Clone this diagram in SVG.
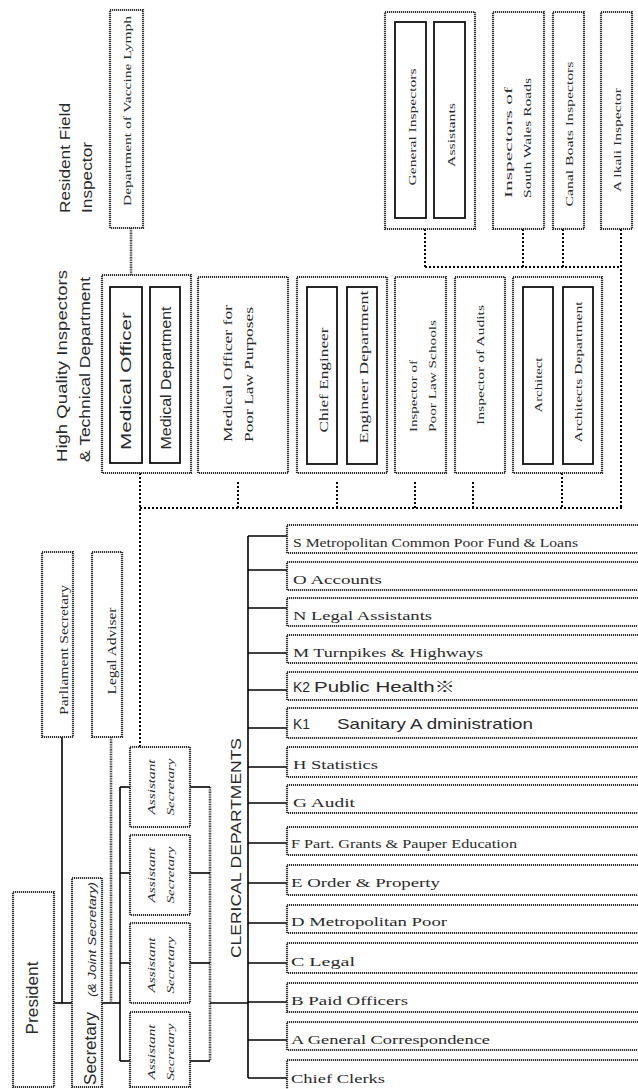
<svg xmlns="http://www.w3.org/2000/svg" width="638" height="1089" viewBox="0 0 638 1089">
<style>
.bx{fill:#fff;stroke:#333;stroke-width:2.2;stroke-dasharray:1.2 0.8}
.ib{fill:#fff;stroke:#111;stroke-width:1.8}
.ln{fill:none;stroke:#000;stroke-width:1.6}
.hl{fill:none;stroke:#444;stroke-width:2.6;stroke-dasharray:1 0.7}
.dt{fill:none;stroke:#000;stroke-width:2;stroke-dasharray:2 2}
.sr{font-family:"Liberation Serif","Times New Roman",serif;fill:#2a2a2a}
.ss{font-family:"Liberation Sans",Arial,"Noto Sans CJK JP",sans-serif;fill:#2a2a2a}
</style>
<rect width="638" height="1089" fill="#fff"/>

<g id="connectors">
  <line class="ln" x1="54" y1="1003" x2="72" y2="1003"/>
  <line class="ln" x1="62" y1="737" x2="62" y2="1003"/>
  <line class="ln" x1="102" y1="1003" x2="120" y2="1003"/>
  <line class="hl" x1="111" y1="737" x2="111" y2="1003"/>
  <line class="ln" x1="120" y1="787" x2="120" y2="1061"/>
  <line class="ln" x1="120" y1="787" x2="130" y2="787"/>
  <line class="ln" x1="120" y1="873" x2="130" y2="873"/>
  <line class="ln" x1="120" y1="963" x2="130" y2="963"/>
  <line class="ln" x1="120" y1="1061" x2="130" y2="1061"/>
  <line class="hl" x1="210" y1="787" x2="210" y2="1061"/>
  <line class="ln" x1="190" y1="787" x2="210" y2="787"/>
  <line class="ln" x1="190" y1="873" x2="210" y2="873"/>
  <line class="ln" x1="190" y1="963" x2="210" y2="963"/>
  <line class="ln" x1="190" y1="1061" x2="210" y2="1061"/>
  <line class="ln" x1="210" y1="1003" x2="248" y2="1003"/>
  <line class="ln" x1="248" y1="536" x2="248" y2="1078"/>
  <line class="ln" x1="248" y1="536" x2="287" y2="536"/>
  <line class="ln" x1="248" y1="570" x2="287" y2="570"/>
  <line class="ln" x1="248" y1="608" x2="287" y2="608"/>
  <line class="ln" x1="248" y1="653" x2="287" y2="653"/>
  <line class="ln" x1="248" y1="690" x2="287" y2="690"/>
  <line class="ln" x1="248" y1="728" x2="287" y2="728"/>
  <line class="ln" x1="248" y1="767" x2="287" y2="767"/>
  <line class="ln" x1="248" y1="803" x2="287" y2="803"/>
  <line class="ln" x1="248" y1="843" x2="287" y2="843"/>
  <line class="ln" x1="248" y1="883" x2="287" y2="883"/>
  <line class="ln" x1="248" y1="923" x2="287" y2="923"/>
  <line class="ln" x1="248" y1="963" x2="287" y2="963"/>
  <line class="ln" x1="248" y1="1002" x2="287" y2="1002"/>
  <line class="ln" x1="248" y1="1040" x2="287" y2="1040"/>
  <line class="ln" x1="248" y1="1078" x2="287" y2="1078"/>
  <line class="hl" x1="131" y1="228" x2="131" y2="275"/>
  <line class="ln" x1="142" y1="380" x2="150" y2="380"/>
  <line class="ln" x1="337" y1="382" x2="347" y2="382"/>
  <line class="ln" x1="553" y1="382" x2="563" y2="382"/>
  <line class="ln" x1="426" y1="130" x2="434" y2="130"/>
  <line class="dt" x1="140" y1="473" x2="140" y2="747"/>
  <line class="dt" x1="140" y1="508" x2="622" y2="508"/>
  <line class="dt" x1="238" y1="482" x2="238" y2="508"/>
  <line class="dt" x1="337" y1="482" x2="337" y2="508"/>
  <line class="dt" x1="415" y1="482" x2="415" y2="508"/>
  <line class="dt" x1="473" y1="482" x2="473" y2="508"/>
  <line class="dt" x1="562" y1="473" x2="562" y2="508"/>
  <line class="dt" x1="621" y1="229" x2="621" y2="508"/>
  <line class="dt" x1="425" y1="267" x2="621" y2="267"/>
  <line class="dt" x1="425" y1="229" x2="425" y2="267"/>
  <line class="dt" x1="523" y1="229" x2="523" y2="267"/>
  <line class="dt" x1="563" y1="229" x2="563" y2="267"/>
</g>

<g id="president">
  <rect class="bx" x="13" y="892" width="41" height="195"/>
  <text class="ss" font-size="16" transform="translate(37.6,998) rotate(-90)" text-anchor="middle" textLength="73" lengthAdjust="spacingAndGlyphs">President</text>
</g>
<g id="secretary">
  <rect class="bx" x="72" y="878" width="30" height="209"/>
  <text class="ss" font-size="16" transform="translate(96,1085) rotate(-90)" textLength="73" lengthAdjust="spacingAndGlyphs">Secretary</text>
  <text class="ss" font-size="10" font-style="italic" transform="translate(96,997) rotate(-90)" textLength="115" lengthAdjust="spacingAndGlyphs">(&amp; Joint Secretary)</text>
</g>
<g id="parliament-secretary">
  <rect class="bx" x="42" y="552" width="31" height="185"/>
  <text class="sr" font-size="12" transform="translate(68,650) rotate(-90)" text-anchor="middle" textLength="130" lengthAdjust="spacingAndGlyphs">Parliament Secretary</text>
</g>
<g id="legal-adviser">
  <rect class="bx" x="92" y="552" width="30" height="185"/>
  <text class="sr" font-size="12" transform="translate(116,651) rotate(-90)" text-anchor="middle" textLength="87" lengthAdjust="spacingAndGlyphs">Legal Adviser</text>
</g>

<g id="assistant-secretary-1">
  <rect class="bx" x="130" y="747" width="60" height="80"/>
  <text class="sr" font-size="10" font-style="italic" transform="translate(154.5,787) rotate(-90)" text-anchor="middle" textLength="55" lengthAdjust="spacingAndGlyphs">Assistant</text>
  <text class="sr" font-size="10" font-style="italic" transform="translate(173.5,787) rotate(-90)" text-anchor="middle" textLength="57" lengthAdjust="spacingAndGlyphs">Secretary</text>
</g>
<g id="assistant-secretary-2">
  <rect class="bx" x="130" y="835" width="60" height="80"/>
  <text class="sr" font-size="10" font-style="italic" transform="translate(154.5,875) rotate(-90)" text-anchor="middle" textLength="55" lengthAdjust="spacingAndGlyphs">Assistant</text>
  <text class="sr" font-size="10" font-style="italic" transform="translate(173.5,875) rotate(-90)" text-anchor="middle" textLength="57" lengthAdjust="spacingAndGlyphs">Secretary</text>
</g>
<g id="assistant-secretary-3">
  <rect class="bx" x="130" y="923" width="60" height="80"/>
  <text class="sr" font-size="10" font-style="italic" transform="translate(154.5,965) rotate(-90)" text-anchor="middle" textLength="55" lengthAdjust="spacingAndGlyphs">Assistant</text>
  <text class="sr" font-size="10" font-style="italic" transform="translate(173.5,965) rotate(-90)" text-anchor="middle" textLength="57" lengthAdjust="spacingAndGlyphs">Secretary</text>
</g>
<g id="assistant-secretary-4">
  <rect class="bx" x="130" y="1012" width="60" height="75"/>
  <text class="sr" font-size="10" font-style="italic" transform="translate(154.5,1052) rotate(-90)" text-anchor="middle" textLength="55" lengthAdjust="spacingAndGlyphs">Assistant</text>
  <text class="sr" font-size="10" font-style="italic" transform="translate(173.5,1052) rotate(-90)" text-anchor="middle" textLength="57" lengthAdjust="spacingAndGlyphs">Secretary</text>
</g>

<g id="clerical-label">
  <text class="ss" font-size="15" transform="translate(241,848) rotate(-90)" text-anchor="middle" textLength="220" lengthAdjust="spacingAndGlyphs">CLERICAL DEPARTMENTS</text>
</g>

<g id="dept-S"><rect class="bx" x="287" y="525" width="360" height="28"/><text class="sr" font-size="13.5" x="293" y="547" textLength="285" lengthAdjust="spacingAndGlyphs">S Metropolitan Common Poor Fund &amp; Loans</text></g>
<g id="dept-O"><rect class="bx" x="287" y="562" width="360" height="28"/><text class="sr" font-size="13.5" x="293" y="584" textLength="89" lengthAdjust="spacingAndGlyphs">O  Accounts</text></g>
<g id="dept-N"><rect class="bx" x="287" y="598" width="360" height="28"/><text class="sr" font-size="13.5" x="293" y="620" textLength="139" lengthAdjust="spacingAndGlyphs">N Legal Assistants</text></g>
<g id="dept-M"><rect class="bx" x="287" y="635" width="360" height="28"/><text class="sr" font-size="13.5" x="293" y="657" textLength="190" lengthAdjust="spacingAndGlyphs">M  Turnpikes &amp; Highways</text></g>
<g id="dept-K2"><rect class="bx" x="287" y="672" width="360" height="28"/><text class="ss" font-size="14.5" x="293" y="692" textLength="17" lengthAdjust="spacingAndGlyphs">K2</text><text class="ss" font-size="14.5" x="314" y="692" textLength="141" lengthAdjust="spacingAndGlyphs">Public Health※</text></g>
<g id="dept-K1"><rect class="bx" x="287" y="708" width="360" height="30"/><text class="ss" font-size="14.5" x="293" y="729" textLength="17" lengthAdjust="spacingAndGlyphs">K1</text><text class="ss" font-size="14.5" x="337" y="729" textLength="196" lengthAdjust="spacingAndGlyphs">Sanitary A dministration</text></g>
<g id="dept-H"><rect class="bx" x="287" y="747" width="360" height="30"/><text class="sr" font-size="13.5" x="293" y="769" textLength="85" lengthAdjust="spacingAndGlyphs">H Statistics</text></g>
<g id="dept-G"><rect class="bx" x="287" y="785" width="360" height="28"/><text class="sr" font-size="13.5" x="293" y="807" textLength="62" lengthAdjust="spacingAndGlyphs">G  Audit</text></g>
<g id="dept-F"><rect class="bx" x="287" y="827" width="360" height="28"/><text class="sr" font-size="13" x="291" y="848" textLength="226" lengthAdjust="spacingAndGlyphs">F  Part. Grants &amp; Pauper Education</text></g>
<g id="dept-E"><rect class="bx" x="287" y="865" width="360" height="30"/><text class="sr" font-size="13.5" x="291" y="887" textLength="149" lengthAdjust="spacingAndGlyphs">E  Order &amp; Property</text></g>
<g id="dept-D"><rect class="bx" x="287" y="905" width="360" height="28"/><text class="sr" font-size="13.5" x="291" y="926" textLength="156" lengthAdjust="spacingAndGlyphs">D  Metropolitan Poor</text></g>
<g id="dept-C"><rect class="bx" x="287" y="943" width="360" height="30"/><text class="sr" font-size="13.5" x="291" y="966" textLength="64" lengthAdjust="spacingAndGlyphs">C  Legal</text></g>
<g id="dept-B"><rect class="bx" x="287" y="983" width="360" height="29"/><text class="sr" font-size="13.5" x="291" y="1005" textLength="117" lengthAdjust="spacingAndGlyphs">B  Paid Officers</text></g>
<g id="dept-A"><rect class="bx" x="287" y="1022" width="360" height="28"/><text class="sr" font-size="13.5" x="291" y="1044" textLength="199" lengthAdjust="spacingAndGlyphs">A  General Correspondence</text></g>
<g id="dept-chief-clerks"><rect class="bx" x="287" y="1060" width="360" height="32"/><text class="sr" font-size="13.5" x="291" y="1083" textLength="94" lengthAdjust="spacingAndGlyphs">Chief Clerks</text></g>

<g id="headers">
  <text class="ss" font-size="14" transform="translate(70,213) rotate(-90)" textLength="110" lengthAdjust="spacingAndGlyphs">Resident Field</text>
  <text class="ss" font-size="14" transform="translate(92,213) rotate(-90)" textLength="71" lengthAdjust="spacingAndGlyphs">Inspector</text>
  <text class="ss" font-size="14" transform="translate(67,462) rotate(-90)" textLength="192" lengthAdjust="spacingAndGlyphs">High Quality Inspectors</text>
  <text class="ss" font-size="14" transform="translate(90,462) rotate(-90)" textLength="185" lengthAdjust="spacingAndGlyphs">&amp; Technical Department</text>
</g>

<g id="vaccine-lymph">
  <rect class="bx" x="110" y="10" width="33" height="218"/>
  <text class="sr" font-size="11" transform="translate(131,111) rotate(-90)" text-anchor="middle" textLength="190" lengthAdjust="spacingAndGlyphs">Department of Vaccine Lymph</text>
</g>

<g id="medical-officer">
  <rect class="bx" x="102" y="275" width="89" height="198"/>
  <rect class="ib" x="110" y="287" width="32" height="176"/>
  <rect class="ib" x="150" y="287" width="30" height="176"/>
  <text class="ss" font-size="15" transform="translate(131,381) rotate(-90)" text-anchor="middle" textLength="138" lengthAdjust="spacingAndGlyphs">Medical Officer</text>
  <text class="ss" font-size="14" transform="translate(171,378) rotate(-90)" text-anchor="middle" textLength="143" lengthAdjust="spacingAndGlyphs">Medical Department</text>
</g>

<g id="medical-officer-poor-law">
  <rect class="bx" x="198" y="277" width="90" height="196"/>
  <text class="sr" font-size="13" transform="translate(231.5,442) rotate(-90)" textLength="137" lengthAdjust="spacingAndGlyphs">Medical Officer for</text>
  <text class="sr" font-size="13" transform="translate(252.5,442) rotate(-90)" textLength="135" lengthAdjust="spacingAndGlyphs">Poor Law Purposes</text>
</g>

<g id="chief-engineer">
  <rect class="bx" x="297" y="277" width="90" height="196"/>
  <rect class="ib" x="307" y="287" width="30" height="177"/>
  <rect class="ib" x="347" y="287" width="30" height="177"/>
  <text class="sr" font-size="13" transform="translate(327.5,380) rotate(-90)" text-anchor="middle" textLength="105" lengthAdjust="spacingAndGlyphs">Chief Engineer</text>
  <text class="sr" font-size="12" transform="translate(368,367) rotate(-90)" text-anchor="middle" textLength="153" lengthAdjust="spacingAndGlyphs">Engineer Department</text>
</g>

<g id="inspector-poor-law-schools">
  <rect class="bx" x="395" y="277" width="51" height="196"/>
  <text class="sr" font-size="11" transform="translate(417,432) rotate(-90)" textLength="72" lengthAdjust="spacingAndGlyphs">Inspector of</text>
  <text class="sr" font-size="11" transform="translate(436,432) rotate(-90)" textLength="112" lengthAdjust="spacingAndGlyphs">Poor Law Schools</text>
</g>

<g id="inspector-of-audits">
  <rect class="bx" x="455" y="277" width="50" height="196"/>
  <text class="sr" font-size="11" transform="translate(484,365) rotate(-90)" text-anchor="middle" textLength="120" lengthAdjust="spacingAndGlyphs">Inspector of Audits</text>
</g>

<g id="architect">
  <rect class="bx" x="513" y="277" width="89" height="196"/>
  <rect class="ib" x="523" y="287" width="30" height="177"/>
  <rect class="ib" x="563" y="287" width="30" height="177"/>
  <text class="sr" font-size="11" transform="translate(542,385) rotate(-90)" text-anchor="middle" textLength="55" lengthAdjust="spacingAndGlyphs">Architect</text>
  <text class="sr" font-size="11" transform="translate(582,372) rotate(-90)" text-anchor="middle" textLength="141" lengthAdjust="spacingAndGlyphs">Architects Department</text>
</g>

<g id="general-inspectors">
  <rect class="bx" x="385" y="12" width="90" height="217"/>
  <rect class="ib" x="395" y="22" width="31" height="196"/>
  <rect class="ib" x="434" y="22" width="31" height="196"/>
  <text class="sr" font-size="11" transform="translate(416,127) rotate(-90)" text-anchor="middle" textLength="117" lengthAdjust="spacingAndGlyphs">General Inspectors</text>
  <text class="sr" font-size="11" transform="translate(455,135) rotate(-90)" text-anchor="middle" textLength="64" lengthAdjust="spacingAndGlyphs">Assistants</text>
</g>

<g id="south-wales-roads">
  <rect class="bx" x="493" y="12" width="51" height="217"/>
  <text class="sr" font-size="11" transform="translate(512,198) rotate(-90)" textLength="111" lengthAdjust="spacingAndGlyphs">Inspectors of</text>
  <text class="sr" font-size="11" transform="translate(531,198) rotate(-90)" textLength="120" lengthAdjust="spacingAndGlyphs">South Wales Roads</text>
</g>

<g id="canal-boats">
  <rect class="bx" x="553" y="12" width="31" height="217"/>
  <text class="sr" font-size="11" transform="translate(573,134) rotate(-90)" text-anchor="middle" textLength="145" lengthAdjust="spacingAndGlyphs">Canal Boats Inspectors</text>
</g>

<g id="alkali-inspector">
  <rect class="bx" x="601" y="12" width="31" height="217"/>
  <text class="sr" font-size="11" transform="translate(621,140) rotate(-90)" text-anchor="middle" textLength="104" lengthAdjust="spacingAndGlyphs">A lkali Inspector</text>
</g>
</svg>
